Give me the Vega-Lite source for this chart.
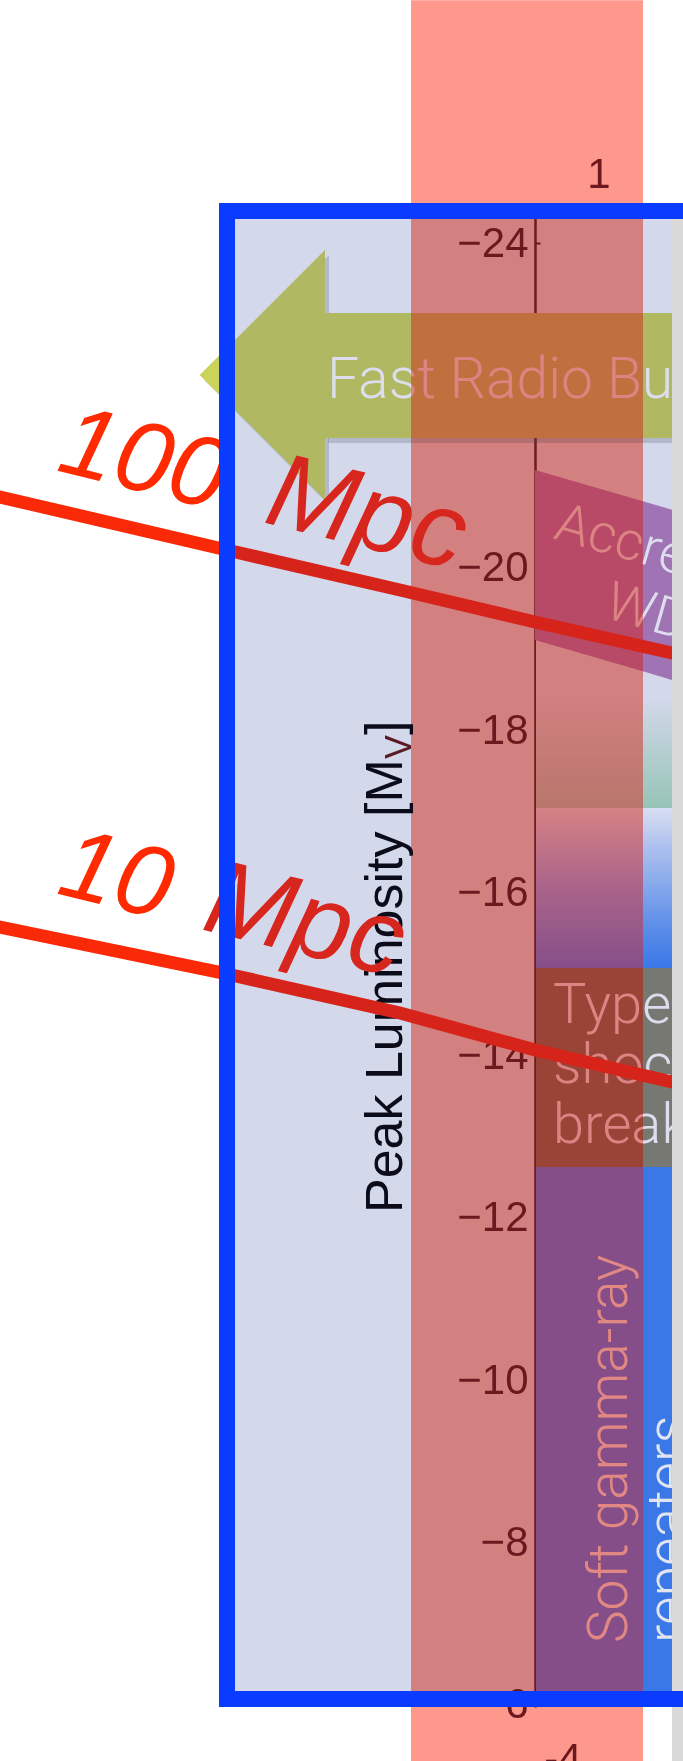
{
  "$schema": "https://vega.github.io/schema/vega-lite/v6.json",
  "width": 445,
  "height": 1496,
  "autosize": {"type": "none"},
  "padding": {"left": 227, "top": 211, "right": 11, "bottom": 54},
  "background": "white",
  "view": {"fill": "#d3d8ea", "stroke": null},
  "config": {"font": "Liberation Sans"},
  "datasets": {
    "regions": [
      {"r": "shadow", "p": "out", "x": 328, "x2": 672, "y": -23.077, "y2": -21.538},
      {"r": "frb", "p": "out", "x": 325, "x2": 672, "y": -23.138, "y2": -21.599},
      {"r": "frb", "p": "band", "x": 411, "x2": 643, "y": -23.138, "y2": -21.599},
      {"r": "teal", "p": "band", "x": 536, "x2": 643, "y": -19.112, "y2": -17.044},
      {"r": "teal", "p": "out", "x": 643, "x2": 672, "y": -19.112, "y2": -17.044},
      {"r": "blue", "p": "band", "x": 536, "x2": 643, "y": -17.044, "y2": -15.074},
      {"r": "blue", "p": "out", "x": 643, "x2": 672, "y": -17.044, "y2": -15.074},
      {"r": "gray", "p": "band", "x": 536, "x2": 643, "y": -15.074, "y2": -12.624},
      {"r": "gray", "p": "out", "x": 643, "x2": 672, "y": -15.074, "y2": -12.624},
      {"r": "sgr", "p": "band", "x": 536, "x2": 643, "y": -12.624, "y2": -5.975},
      {"r": "sgr", "p": "out", "x": 643, "x2": 672, "y": -12.624, "y2": -5.975},
      {"r": "strip", "p": "out", "x": 672, "x2": 690, "y": -24.468, "y2": -5.31},
      {"r": "band", "p": "band", "x": 411, "x2": 643, "y": -26.99, "y2": -5.31},
      {"r": "box", "p": "out", "x": 227, "x2": 695, "y": -24.394, "y2": -6.074}
    ],
    "polys": [
      {"r": "headshadow", "x": 204, "y": -22.313, "y2": -22.313},
      {"r": "headshadow", "x": 329, "y": -23.852, "y2": -20.774},
      {"r": "head", "x": 200, "y": -22.375, "y2": -22.375},
      {"r": "head", "x": 325, "y": -23.914, "y2": -20.836},
      {"r": "tip", "x": 200, "y": -22.375, "y2": -22.375},
      {"r": "tip", "x": 221, "y": -22.633, "y2": -22.117},
      {"r": "accr_band", "x": 535, "y": -21.205, "y2": -19.112},
      {"r": "accr_band", "x": 643, "y": -20.82, "y2": -18.727},
      {"r": "accr_out", "x": 643, "y": -20.82, "y2": -18.727},
      {"r": "accr_out", "x": 672, "y": -20.715, "y2": -18.62}
    ],
    "lines": [
      {"d": "100 Mpc", "p": "out", "x": 0, "y": -20.873},
      {"d": "100 Mpc", "p": "out", "x": 227, "y": -20.22},
      {"d": "100 Mpc", "p": "in", "x": 227, "y": -20.22},
      {"d": "100 Mpc", "p": "in", "x": 400, "y": -19.728},
      {"d": "100 Mpc", "p": "in", "x": 535, "y": -19.334},
      {"d": "100 Mpc", "p": "in", "x": 672, "y": -18.952},
      {"d": "10 Mpc", "p": "out", "x": 0, "y": -15.578},
      {"d": "10 Mpc", "p": "out", "x": 227, "y": -15.0},
      {"d": "10 Mpc", "p": "in", "x": 227, "y": -15.0},
      {"d": "10 Mpc", "p": "in", "x": 400, "y": -14.52},
      {"d": "10 Mpc", "p": "in", "x": 535, "y": -14.064},
      {"d": "10 Mpc", "p": "in", "x": 672, "y": -13.67}
    ],
    "notes": [
      {"k": "red_out", "t": "100", "x": 55, "y": -21.205},
      {"k": "red_in", "t": "Mpc", "x": 262, "y": -20.565},
      {"k": "red_out", "t": "10", "x": 55, "y": -15.997},
      {"k": "red_in", "t": "Mpc", "x": 200, "y": -15.554}
    ],
    "labels": [
      {"k": "frb", "t": "Fast Radio Burst", "x": 327, "y": -22.092},
      {"k": "accr", "t": "Accreting\nWD", "x": 660, "y": -19.986},
      {"k": "sbo", "t": "Type II\nshock\nbreakout", "x": 553, "y": -14.396},
      {"k": "sgr", "t": "Soft gamma-ray\nrepeaters", "x": 627, "y": -6.763},
      {"k": "top", "t": "1", "x": 599, "y": -24.677},
      {"k": "bottom", "t": "-4", "x": 563, "y": -5.162},
      {"k": "title", "t": "Peak Luminosity [M", "x": 402, "y": -12.057},
      {"k": "sub", "t": "V", "x": 411, "y": -17.647},
      {"k": "close", "t": "]", "x": 402, "y": -17.942}
    ]
  },
  "encoding": {
    "x": {"field": "x", "type": "quantitative", "scale": {"domain": [227, 672], "nice": false, "zero": false}, "axis": null},
    "y": {
      "field": "y", "type": "quantitative",
      "scale": {"domain": [-24.394, -5.975], "reverse": true, "nice": false, "zero": false},
      "axis": {
        "offset": -308, "values": [-24, -22, -20, -18, -16, -14, -12, -10, -8, -6],
        "title": null, "grid": false,
        "domainColor": "#6b2f39", "domainWidth": 2.5,
        "tickColor": "#6b2f39", "tickSize": -5, "tickWidth": 2,
        "labelFont": "Liberation Sans", "labelFontSize": 42, "labelColor": "#6b2a36",
        "labelPadding": 12, "labelOverlap": false, "labelFlush": false, "labelBound": false
      }
    }
  },
  "layer": [
    {"data": {"name": "regions"}, "transform": [{"filter": "datum.r == 'shadow'"}],
     "mark": {"type": "rect", "color": "#6a7080", "opacity": 0.3}, "encoding": {"x2": {"field": "x2"}, "y2": {"field": "y2"}}},
    {"data": {"name": "polys"}, "transform": [{"filter": "datum.r == 'headshadow'"}],
     "mark": {"type": "area", "color": "#6a7080", "opacity": 0.3}, "encoding": {"y2": {"field": "y2"}}},
    {"data": {"name": "regions"}, "transform": [{"filter": "datum.r == 'frb' && datum.p == 'out'"}],
     "mark": {"type": "rect", "color": "#b0b862"}, "encoding": {"x2": {"field": "x2"}, "y2": {"field": "y2"}}},
    {"data": {"name": "regions"}, "transform": [{"filter": "datum.r == 'frb' && datum.p == 'band'"}],
     "mark": {"type": "rect", "color": "#c0bc73"}, "encoding": {"x2": {"field": "x2"}, "y2": {"field": "y2"}}},
    {"data": {"name": "polys"}, "transform": [{"filter": "datum.r == 'head'"}],
     "mark": {"type": "area", "color": "#b0b862"}, "encoding": {"y2": {"field": "y2"}}},
    {"data": {"name": "polys"}, "transform": [{"filter": "datum.r == 'tip'"}],
     "mark": {"type": "area", "color": "#cbd35a"}, "encoding": {"y2": {"field": "y2"}}},
    {"data": {"name": "regions"}, "transform": [{"filter": "datum.r == 'teal' && datum.p == 'band'"}],
     "mark": {"type": "rect", "color": {"gradient": "linear", "x1": 0, "y1": 0, "x2": 0, "y2": 1,
       "stops": [{"offset": 0, "color": "#d3d8ea"}, {"offset": 0.3, "color": "#d3d8ea"}, {"offset": 1, "color": "#b9c6c5"}]}},
     "encoding": {"x2": {"field": "x2"}, "y2": {"field": "y2"}}},
    {"data": {"name": "regions"}, "transform": [{"filter": "datum.r == 'teal' && datum.p == 'out'"}],
     "mark": {"type": "rect", "color": {"gradient": "linear", "x1": 0, "y1": 0, "x2": 0, "y2": 1,
       "stops": [{"offset": 0, "color": "#d3d8ea"}, {"offset": 0.35, "color": "#d3d8ea"}, {"offset": 1, "color": "#96c4b6"}]}},
     "encoding": {"x2": {"field": "x2"}, "y2": {"field": "y2"}}},
    {"data": {"name": "polys"}, "transform": [{"filter": "datum.r == 'accr_band'"}],
     "mark": {"type": "area", "color": "#b87cbe"}, "encoding": {"y2": {"field": "y2"}}},
    {"data": {"name": "polys"}, "transform": [{"filter": "datum.r == 'accr_out'"}],
     "mark": {"type": "area", "color": "#a073b4"}, "encoding": {"y2": {"field": "y2"}}},
    {"data": {"name": "regions"}, "transform": [{"filter": "datum.r == 'blue' && datum.p == 'band'"}],
     "mark": {"type": "rect", "color": {"gradient": "linear", "x1": 0, "y1": 0, "x2": 0, "y2": 1,
       "stops": [{"offset": 0, "color": "#d5d8f0"}, {"offset": 0.5, "color": "#aaa8fb"}, {"offset": 1, "color": "#8683f8"}]}},
     "encoding": {"x2": {"field": "x2"}, "y2": {"field": "y2"}}},
    {"data": {"name": "regions"}, "transform": [{"filter": "datum.r == 'blue' && datum.p == 'out'"}],
     "mark": {"type": "rect", "color": {"gradient": "linear", "x1": 0, "y1": 0, "x2": 0, "y2": 1,
       "stops": [{"offset": 0, "color": "#d8def2"}, {"offset": 0.26, "color": "#aabfee"}, {"offset": 0.76, "color": "#5a8ce8"}, {"offset": 1, "color": "#3a78e8"}]}},
     "encoding": {"x2": {"field": "x2"}, "y2": {"field": "y2"}}},
    {"data": {"name": "regions"}, "transform": [{"filter": "datum.r == 'gray' && datum.p == 'band'"}],
     "mark": {"type": "rect", "color": "#9a7264"}, "encoding": {"x2": {"field": "x2"}, "y2": {"field": "y2"}}},
    {"data": {"name": "regions"}, "transform": [{"filter": "datum.r == 'gray' && datum.p == 'out'"}],
     "mark": {"type": "rect", "color": "#787872"}, "encoding": {"x2": {"field": "x2"}, "y2": {"field": "y2"}}},
    {"data": {"name": "regions"}, "transform": [{"filter": "datum.r == 'sgr' && datum.p == 'band'"}],
     "mark": {"type": "rect", "color": "#8683f8"}, "encoding": {"x2": {"field": "x2"}, "y2": {"field": "y2"}}},
    {"data": {"name": "regions"}, "transform": [{"filter": "datum.r == 'sgr' && datum.p == 'out'"}],
     "mark": {"type": "rect", "color": "#3a78e8"}, "encoding": {"x2": {"field": "x2"}, "y2": {"field": "y2"}}},
    {"data": {"name": "labels"}, "transform": [{"filter": "datum.k == 'frb'"}],
     "mark": {"type": "text", "font": "Roboto", "fontWeight": 300, "fontSize": 57, "color": "#dcdeee", "align": "left", "baseline": "alphabetic"},
     "encoding": {"text": {"field": "t"}}},
    {"data": {"name": "labels"}, "transform": [{"filter": "datum.k == 'accr'"}],
     "mark": {"type": "text", "font": "Roboto", "fontWeight": 300, "fontSize": 54, "color": "#dcdeee", "align": "center", "baseline": "alphabetic", "angle": 16, "lineBreak": "\n", "lineHeight": 62},
     "encoding": {"text": {"field": "t"}}},
    {"data": {"name": "labels"}, "transform": [{"filter": "datum.k == 'sbo'"}],
     "mark": {"type": "text", "font": "Roboto", "fontWeight": 300, "fontSize": 56, "color": "#dcdeee", "align": "left", "baseline": "alphabetic", "lineBreak": "\n", "lineHeight": 60},
     "encoding": {"text": {"field": "t"}}},
    {"data": {"name": "labels"}, "transform": [{"filter": "datum.k == 'sgr'"}],
     "mark": {"type": "text", "font": "Roboto", "fontWeight": 300, "fontSize": 55, "color": "#e2e4f0", "align": "left", "baseline": "alphabetic", "angle": 270, "lineBreak": "\n", "lineHeight": 59},
     "encoding": {"text": {"field": "t"}}},
    {"data": {"name": "labels"}, "transform": [{"filter": "datum.k == 'top' || datum.k == 'bottom'"}],
     "mark": {"type": "text", "font": "Liberation Sans", "fontSize": 42, "color": "#6b2a36", "align": "center", "baseline": "alphabetic"},
     "encoding": {"text": {"field": "t"}}},
    {"data": {"name": "regions"}, "transform": [{"filter": "datum.r == 'band'"}],
     "mark": {"type": "rect", "color": "#ff988c", "blend": "multiply"}, "encoding": {"x2": {"field": "x2"}, "y2": {"field": "y2"}}},
    {"data": {"name": "labels"}, "transform": [{"filter": "datum.k == 'title' || datum.k == 'close'"}],
     "mark": {"type": "text", "font": "Liberation Sans", "fontSize": 52, "color": "#0b0b1a", "align": "left", "baseline": "alphabetic", "angle": 270},
     "encoding": {"text": {"field": "t"}}},
    {"data": {"name": "labels"}, "transform": [{"filter": "datum.k == 'sub'"}],
     "mark": {"type": "text", "font": "Liberation Sans", "fontSize": 36, "color": "#5a1a22", "align": "left", "baseline": "alphabetic", "angle": 270},
     "encoding": {"text": {"field": "t"}}},
    {"data": {"name": "lines"}, "transform": [{"filter": "datum.p == 'out'"}],
     "mark": {"type": "line", "color": "#fa2a08", "strokeWidth": 13, "strokeCap": "round"},
     "encoding": {"detail": {"field": "d"}}},
    {"data": {"name": "lines"}, "transform": [{"filter": "datum.p == 'in'"}],
     "mark": {"type": "line", "color": "#d6241a", "strokeWidth": 13, "strokeCap": "round"},
     "encoding": {"detail": {"field": "d"}}},
    {"data": {"name": "notes"}, "transform": [{"filter": "datum.k == 'red_out'"}],
     "mark": {"type": "text", "font": "Liberation Sans", "fontStyle": "italic", "fontSize": 100, "color": "#ff2a00", "align": "left", "baseline": "alphabetic", "angle": 14},
     "encoding": {"text": {"field": "t"}}},
    {"data": {"name": "notes"}, "transform": [{"filter": "datum.k == 'red_in'"}],
     "mark": {"type": "text", "font": "Liberation Sans", "fontStyle": "italic", "fontSize": 106, "color": "#d7261e", "align": "left", "baseline": "alphabetic", "angle": 14},
     "encoding": {"text": {"field": "t"}}},
    {"data": {"name": "regions"}, "transform": [{"filter": "datum.r == 'strip'"}],
     "mark": {"type": "rect", "color": "#d9d9d9"}, "encoding": {"x2": {"field": "x2"}, "y2": {"field": "y2"}}},
    {"data": {"name": "regions"}, "transform": [{"filter": "datum.r == 'box'"}],
     "mark": {"type": "rect", "filled": false, "color": "#0a3cff", "strokeWidth": 16}, "encoding": {"x2": {"field": "x2"}, "y2": {"field": "y2"}}}
  ]
}
